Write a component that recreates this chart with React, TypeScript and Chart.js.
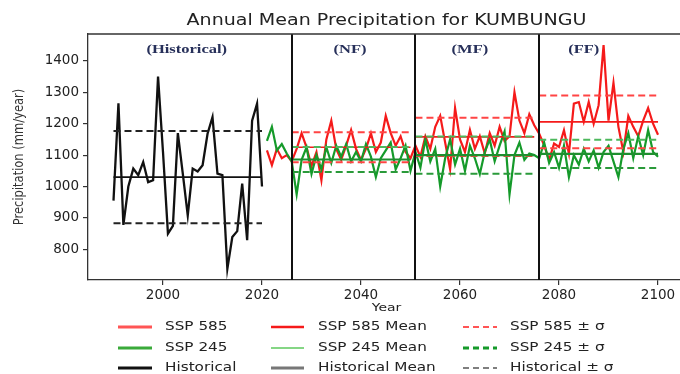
import React, { useEffect, useRef } from 'react';
import { Chart, registerables } from 'chart.js';

Chart.register(...registerables);

const chartTitle = 'Annual Mean Precipitation for KUMBUNGU';
const xAxisTitle = 'Year';
const yAxisTitle = 'Precipitation (mm/year)';

const histYears = [1990, 1991, 1992, 1993, 1994, 1995, 1996, 1997, 1998, 1999, 2000, 2001, 2002, 2003, 2004, 2005, 2006, 2007, 2008, 2009, 2010, 2011, 2012, 2013, 2014, 2015, 2016, 2017, 2018, 2019, 2020];
const histValues = [955, 1265, 878, 1000, 1057, 1036, 1078, 1014, 1020, 1350, 1110, 850, 875, 1170, 1041, 908, 1057, 1048, 1068, 1168, 1221, 1041, 1036, 738, 839, 858, 1009, 829, 1210, 1264, 1000];
const histMean = 1030;
const histSd = 147;

const sspYears = [
  2021, 2022, 2023, 2024, 2025, 2026, 2027, 2028, 2029, 2030,
  2031, 2032, 2033, 2034, 2035, 2036, 2037, 2038, 2039, 2040,
  2041, 2042, 2043, 2044, 2045, 2046, 2047, 2048, 2049, 2050,
  2051, 2052, 2053, 2054, 2055, 2056, 2057, 2058, 2059, 2060,
  2061, 2062, 2063, 2064, 2065, 2066, 2067, 2068, 2069, 2070,
  2071, 2072, 2073, 2074, 2075, 2076, 2077, 2078, 2079, 2080,
  2081, 2082, 2083, 2084, 2085, 2086, 2087, 2088, 2089, 2090,
  2091, 2092, 2093, 2094, 2095, 2096, 2097, 2098, 2099, 2100,
];
const ssp585 = [
  1115, 1068, 1120, 1090, 1100, 1080, 1120, 1170, 1125, 1065,
  1110, 1020, 1150, 1210, 1120, 1085, 1130, 1180, 1120, 1085,
  1120, 1170, 1110, 1140, 1225, 1170, 1130, 1160, 1110, 1090,
  1130, 1095, 1160, 1120, 1190, 1225, 1140, 1055, 1250, 1150,
  1110, 1180, 1120, 1160, 1105, 1170, 1130, 1190, 1145, 1160,
  1300, 1210, 1170, 1230, 1195, 1168, 1131, 1084, 1137, 1126,
  1179, 1105, 1264, 1269, 1206, 1269, 1200, 1259, 1450, 1210,
  1330, 1190, 1110, 1225, 1190, 1160, 1210, 1250, 1200, 1165,
];
const ssp245 = [
  1145, 1190, 1115, 1135, 1105, 1080, 975, 1085, 1125, 1040,
  1100, 1055, 1125, 1075, 1130, 1095, 1135, 1080, 1110, 1080,
  1135, 1095, 1030, 1090, 1115, 1140, 1055, 1090, 1130, 1050,
  1110, 1060, 1150, 1080, 1120, 1000, 1090, 1150, 1070, 1120,
  1050, 1130, 1090, 1040, 1110, 1150, 1080, 1130, 1175, 975,
  1100, 1140, 1085, 1105, 1100, 1090, 1140, 1075, 1110, 1060,
  1130, 1030, 1100, 1070, 1120, 1080, 1115, 1060, 1110, 1130,
  1080, 1030, 1120, 1170, 1090, 1160, 1100, 1180, 1110, 1095,
];

const periodNames = ['(NF)', '(MF)', '(FF)'];
const periodStarts = [2026, 2051, 2076];
const periodEnds = [2050, 2075, 2100];
const ssp585Mean = [1125, 1158, 1206];
const ssp585Sd = [48, 61, 84];
const ssp245Mean = [1086, 1100, 1104];
const ssp245Sd = [40, 59, 45];

const histLabel = '(Historical)';
const labelYears = [2004.8, 2037.8, 2062, 2085];
const labelValue = 1437;

const xTicks = [2000, 2020, 2040, 2060, 2080, 2100];
const yTicks = [800, 900, 1000, 1100, 1200, 1300, 1400];

const RED = '#f51a1a';
const GREEN = '#159a2a';
const LIGHTGREEN = '#5cc85c';
const SX = 1.27;
const DASH = [7, 4];

function sText(ctx: CanvasRenderingContext2D, text: string, x: number, y: number, font: string, color: string, align: CanvasTextAlign) {
  ctx.save();
  ctx.translate(x, y);
  ctx.scale(SX, 1);
  ctx.font = font;
  ctx.fillStyle = color;
  ctx.textAlign = align;
  ctx.textBaseline = 'middle';
  ctx.fillText(text, 0, 0);
  ctx.restore();
}

const overlay = {
  id: 'overlay',
  afterDatasetsDraw(chart: any) {
    const ctx: CanvasRenderingContext2D = chart.ctx;
    const { top, bottom, left, right } = chart.chartArea;
    const xs = chart.scales.x;
    const ys = chart.scales.y;
    ctx.save();
    ctx.strokeStyle = '#111';
    ctx.lineWidth = 2;
    periodStarts.forEach((yr) => {
      const px = Math.round(xs.getPixelForValue(yr));
      ctx.beginPath();
      ctx.moveTo(px, top);
      ctx.lineTo(px, bottom);
      ctx.stroke();
    });
    ctx.restore();

    const labels = [histLabel, ...periodNames];
    labels.forEach((t, i) => {
      sText(ctx, t, xs.getPixelForValue(labelYears[i]), ys.getPixelForValue(labelValue), 'bold 13px "Liberation Serif"', '#27305a', 'center');
    });

    sText(ctx, chartTitle, (left + right) / 2, 21, '15px "DejaVu Sans"', '#222', 'center');
    sText(ctx, xAxisTitle, (left + right) / 2, 308, '11px "DejaVu Sans"', '#222', 'center');
    ctx.save();
    ctx.translate(19, (top + bottom) / 2);
    ctx.scale(SX, 1);
    ctx.rotate(-Math.PI / 2);
    ctx.font = '11.5px "DejaVu Sans"';
    ctx.fillStyle = '#333';
    ctx.textAlign = 'center';
    ctx.textBaseline = 'middle';
    ctx.fillText(yAxisTitle, 0, 0);
    ctx.restore();

    const rows = [327, 348, 368];
    const cols = [
      { x0: 118, x1: 152, tx: 165 },
      { x0: 271, x1: 304, tx: 318 },
      { x0: 463, x1: 497, tx: 510 },
    ];
    const items = [
      [
        { t: 'SSP 585', c: '#f55', w: 3, d: [] as number[] },
        { t: 'SSP 245', c: '#3aaa3a', w: 3, d: [] as number[] },
        { t: 'Historical', c: '#111', w: 3, d: [] as number[] },
      ],
      [
        { t: 'SSP 585 Mean', c: RED, w: 2.5, d: [] as number[] },
        { t: 'SSP 245 Mean', c: LIGHTGREEN, w: 1.5, d: [] as number[] },
        { t: 'Historical Mean', c: '#777', w: 3, d: [] as number[] },
      ],
      [
        { t: 'SSP 585 ± σ', c: '#f55', w: 2, d: [6, 4] },
        { t: 'SSP 245 ± σ', c: GREEN, w: 3, d: [6, 4] },
        { t: 'Historical ± σ', c: '#555', w: 1.5, d: [6, 4] },
      ],
    ];
    items.forEach((col, ci) => {
      col.forEach((it, ri) => {
        const y = rows[ri];
        ctx.save();
        ctx.strokeStyle = it.c;
        ctx.lineWidth = it.w;
        ctx.setLineDash(it.d);
        ctx.beginPath();
        ctx.moveTo(cols[ci].x0, y);
        ctx.lineTo(cols[ci].x1, y);
        ctx.stroke();
        ctx.restore();
        sText(ctx, it.t, cols[ci].tx, y, '12px "DejaVu Sans"', '#222', 'left');
      });
    });
  },
  afterDraw(chart: any) {
    const ctx: CanvasRenderingContext2D = chart.ctx;
    const { top, bottom, left, right } = chart.chartArea;
    ctx.save();
    ctx.setLineDash([]);
    ctx.fillStyle = '#fff';
    ctx.fillRect(668, top + 1.5, 100, bottom - top - 3);
    ctx.strokeStyle = '#333';
    ctx.lineWidth = 1.3;
    ctx.beginPath();
    ctx.moveTo(left, top);
    ctx.lineTo(right + 10, top);
    ctx.stroke();
    ctx.restore();
  },
};

function seg(x0: number, x1: number, v: number) {
  return [{ x: x0, y: v }, { x: x1, y: v }];
}

export default function App() {
  const ref = useRef<HTMLCanvasElement | null>(null);
  useEffect(() => {
    if (!ref.current) return;
    const datasets: any[] = [];
    const line = (data: any[], color: string, width: number, dash: number[], order: number) => ({
      data,
      borderColor: color,
      backgroundColor: color,
      borderWidth: width,
      borderDash: dash,
      pointRadius: 0,
      fill: false,
      tension: 0,
      order,
    });
    const h0 = histYears[0];
    const h1 = histYears[histYears.length - 1];
    datasets.push(line(histYears.map((x, i) => ({ x, y: histValues[i] })), '#111', 2.3, [], 90));
    datasets.push(line(seg(h0, h1, histMean), '#111', 1.7, [], 80));
    datasets.push(line(seg(h0, h1, histMean + histSd), '#222', 2, DASH, 80));
    datasets.push(line(seg(h0, h1, histMean - histSd), '#222', 2, DASH, 80));
    datasets.push(line(sspYears.map((x, i) => ({ x, y: ssp585[i] })), RED, 2.2, [], 70));
    datasets.push(line(sspYears.map((x, i) => ({ x, y: ssp245[i] })), GREEN, 2.2, [], 60));
    periodStarts.forEach((s, i) => {
      const e = periodEnds[i];
      datasets.push(line(seg(s, e, ssp585Mean[i]), RED, 1.7, [], 50));
      datasets.push(line(seg(s, e, ssp585Mean[i] + ssp585Sd[i]), '#f44', 2, DASH, 50));
      datasets.push(line(seg(s, e, ssp585Mean[i] - ssp585Sd[i]), '#f44', 2, DASH, 50));
      datasets.push(line(seg(s, e, ssp245Mean[i]), '#1f8f2f', 2.2, [], 40));
      datasets.push(line(seg(s, e, ssp245Mean[i] + ssp245Sd[i]), '#4cb85c', 2, DASH, 40));
      datasets.push(line(seg(s, e, ssp245Mean[i] - ssp245Sd[i]), '#2a9a3a', 2, DASH, 40));
    });

    const tickFont = { family: 'DejaVu Sans', size: 13.5 };
    const chart = new Chart(ref.current, {
      type: 'line',
      data: { datasets },
      options: {
        animation: false,
        responsive: false,
        maintainAspectRatio: false,
        layout: { padding: { top: 34, right: 75, left: 0, bottom: 0 } },
        plugins: { legend: { display: false }, tooltip: { enabled: false }, title: { display: false } },
        scales: {
          x: {
            type: 'linear',
            min: 1984.85,
            max: 2105.45,
            afterBuildTicks: (s: any) => { s.ticks = xTicks.map((v) => ({ value: v })); },
            afterFit: (s: any) => { s.height = 94; },
            ticks: { font: tickFont, color: '#222', padding: 2, maxRotation: 0, autoSkip: false, callback: (v: any) => String(v) },
            grid: { display: true, drawOnChartArea: false, drawTicks: true, tickLength: 5, color: '#333', lineWidth: 1.2 },
            border: { display: true, color: '#333', width: 1.3 },
          },
          y: {
            type: 'linear',
            min: 702.4,
            max: 1485.6,
            afterBuildTicks: (s: any) => { s.ticks = yTicks.map((v) => ({ value: v })); },
            afterFit: (s: any) => { s.width = 88; },
            ticks: { font: tickFont, color: '#222', padding: 4, autoSkip: false, callback: (v: any) => String(v) },
            grid: { display: true, drawOnChartArea: false, drawTicks: true, tickLength: 5, color: '#333', lineWidth: 1.2 },
            border: { display: true, color: '#333', width: 1.3 },
          },
        },
      },
      plugins: [overlay],
    } as any);
    return () => chart.destroy();
  }, []);

  return (
    <div style={{ position: 'fixed', left: 0, top: 0, width: 680, height: 374, overflow: 'hidden', background: '#fff' }}>
      <canvas ref={ref} width={760} height={374} style={{ display: 'block', width: 760, height: 374 }} />
    </div>
  );
}
